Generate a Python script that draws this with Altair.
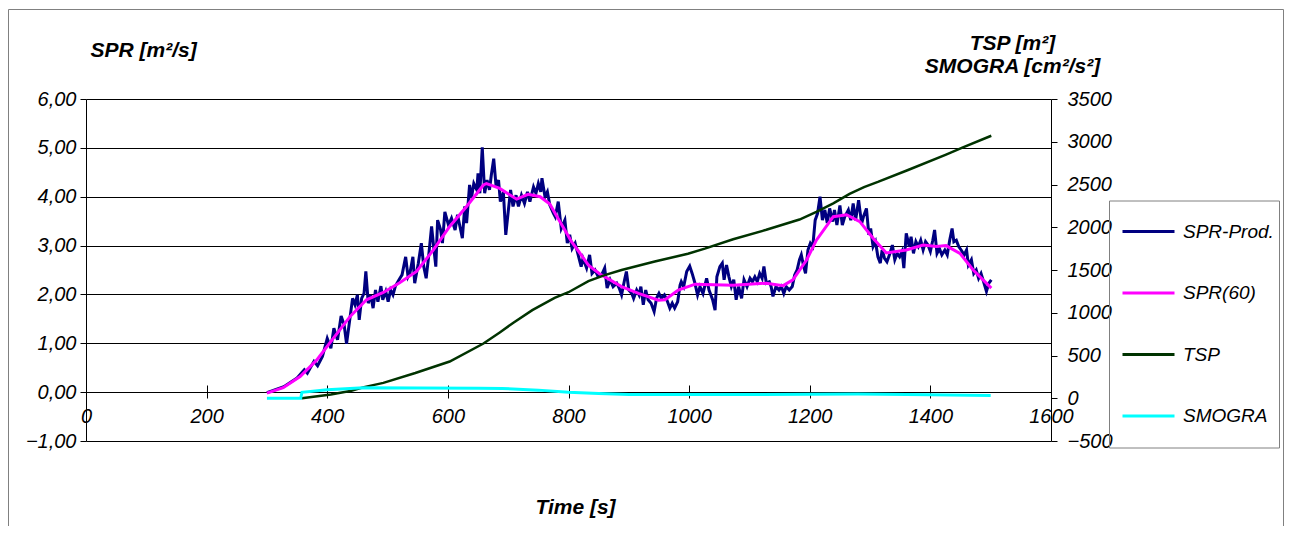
import altair as alt
import pandas as pd

SERIES = ["SPR-Prod.", "SPR(60)", "TSP", "SMOGRA"]
COLORS = ["#000080", "#FF00FF", "#003300", "#00FFFF"]

SPR_PROD_T = [300, 328, 350, 362, 367, 378, 384, 392, 400, 406, 411, 417, 423, 428, 432, 442, 446, 450, 453, 457,
              461, 464, 468, 472, 476, 480, 484, 489, 492, 497, 501, 505, 509, 513, 519, 524, 530, 534, 537, 542,
              545, 551, 556, 560, 564, 568, 573, 577, 580, 583, 588, 591, 595, 601, 606, 612, 616, 620, 624, 628,
              631, 636, 639, 643, 648, 650, 653, 657, 661, 665, 669, 672, 676, 680, 684, 687, 692, 696, 700, 704,
              708, 713, 717, 722, 727, 732, 736, 742, 746, 750, 754, 756, 761, 765, 769, 775, 778, 783, 788, 794,
              798, 802, 806, 811, 816, 821, 824, 830, 835, 839, 844, 849, 855, 860, 864, 869, 874, 880, 884, 888,
              893, 896, 900, 905, 908, 913, 917, 920, 924, 928, 932, 937, 942, 946, 950, 954, 959, 963, 968, 972,
              976, 981, 985, 987, 991, 996, 1001, 1005, 1009, 1014, 1018, 1023, 1029, 1033, 1039, 1043, 1046, 1051,
              1055, 1058, 1062, 1066, 1070, 1074, 1078, 1082, 1087, 1091, 1096, 1101, 1105, 1109, 1113, 1117, 1121,
              1124, 1128, 1133, 1136, 1139, 1144, 1149, 1153, 1157, 1161, 1166, 1171, 1175, 1179, 1183, 1186, 1190,
              1193, 1197, 1201, 1205, 1209, 1213, 1217, 1221, 1225, 1229, 1233, 1238, 1241, 1245, 1250, 1254, 1258,
              1264, 1268, 1272, 1276, 1281, 1286, 1289, 1294, 1298, 1301, 1305, 1309, 1313, 1317, 1320, 1324, 1328,
              1333, 1337, 1341, 1345, 1349, 1353, 1356, 1360, 1365, 1368, 1372, 1376, 1380, 1384, 1388, 1392, 1396,
              1400, 1404, 1407, 1411, 1415, 1419, 1424, 1428, 1432, 1436, 1439, 1443, 1447, 1451, 1456, 1460, 1463,
              1468, 1472, 1476, 1480, 1484, 1489, 1493, 1497, 1501]
SPR_PROD_V = [-0.01, 0.11, 0.29, 0.46, 0.39, 0.63, 0.54, 0.73, 1.10, 0.90, 1.31, 1.07, 1.56, 1.38, 0.99, 1.92, 1.79, 1.99, 1.48, 1.92,
              2.02, 2.47, 1.82, 1.99, 1.72, 2.09, 1.85, 2.17, 1.89, 2.06, 1.85, 2.09, 1.99, 2.17, 2.30, 2.40, 2.77, 2.36, 2.43, 2.77,
              2.23, 2.64, 3.05, 2.57, 2.33, 2.77, 3.39, 2.91, 2.57, 3.52, 3.32, 3.05, 3.69, 3.42, 3.56, 3.32, 3.63, 3.39, 3.15, 3.80,
              3.46, 4.24, 3.97, 4.27, 4.14, 4.48, 4.07, 5.01, 4.07, 4.34, 4.14, 4.44, 4.78, 4.20, 4.34, 3.90, 4.10, 3.22, 3.69, 4.14,
              3.80, 4.03, 3.80, 4.03, 3.86, 4.10, 3.90, 4.20, 4.07, 4.27, 4.10, 4.38, 4.00, 4.10, 3.83, 3.66, 3.59, 3.90, 3.35, 3.52,
              3.05, 3.22, 2.94, 3.05, 2.81, 2.57, 2.74, 2.54, 2.81, 2.43, 2.50, 2.37, 2.40, 2.54, 2.13, 2.30, 2.16, 2.23, 2.13, 1.99,
              2.30, 2.47, 2.09, 2.02, 1.92, 2.09, 1.99, 2.16, 1.79, 2.09, 1.89, 1.82, 1.65, 1.92, 2.02, 1.92, 1.99, 1.89, 1.72, 1.82,
              1.72, 1.85, 2.19, 2.26, 2.16, 2.47, 2.58, 2.43, 2.26, 1.99, 2.16, 2.02, 2.33, 2.09, 1.89, 1.68, 2.36, 2.57,
              2.64, 2.30, 2.60, 2.36, 2.16, 2.30, 1.89, 2.16, 1.92, 2.30, 2.16, 2.33, 2.26, 2.36, 2.26, 2.43, 2.33,
              2.57, 2.23, 2.26, 2.16, 1.96, 2.16, 2.09, 2.16, 2.02, 2.16, 2.09, 2.16, 2.40, 2.50, 2.71, 2.81, 2.57,
              2.43, 2.91, 3.05, 2.98, 3.52, 3.66, 4.00, 3.52, 3.73, 3.46, 3.76, 3.49, 3.73, 3.42, 3.82, 3.42, 3.59,
              3.73, 3.52, 3.86, 3.52, 3.93, 3.45, 3.59, 3.76, 3.22, 3.35, 2.98, 3.08, 2.77, 2.64, 2.91, 2.74, 2.67,
              2.84, 3.01, 2.71, 2.84, 2.77, 2.88, 2.54, 3.25, 2.98, 3.18, 2.84, 3.08, 2.98, 3.11, 2.91, 3.08, 3.01,
              2.88, 3.11, 3.32, 2.84, 2.94, 2.81, 2.91, 2.81, 3.11, 3.35, 3.08, 3.11, 2.98, 2.91, 2.81, 2.91, 2.60,
              2.71, 2.43, 2.50, 2.33, 2.43, 2.23, 2.06, 2.23, 2.30]

SPR60_T = [300, 327, 355, 382, 410, 438, 465, 493, 520, 548, 576, 603, 631, 659, 664, 686, 714, 733, 753, 769,
           783, 797, 805, 814, 833, 852, 860, 888, 916, 949, 960, 982, 1010, 1073, 1128, 1156, 1172, 1195, 1211,
           1239, 1261, 1283, 1305, 1327, 1360, 1388, 1410, 1426, 1449, 1471, 1501]
SPR60_V = [-0.02, 0.09, 0.32, 0.65, 1.10, 1.55, 1.89, 2.04, 2.24, 2.47, 2.91, 3.39, 3.80, 4.24, 4.27, 4.17, 3.95, 4.05, 4.00, 3.85,
           3.55, 3.25, 3.08, 2.93, 2.60, 2.42, 2.36, 2.16, 2.02, 1.88, 1.89, 2.09, 2.21, 2.19, 2.23, 2.18, 2.30, 2.71, 3.11,
           3.59, 3.63, 3.49, 3.15, 2.85, 2.91, 3.01, 2.98, 3.00, 2.84, 2.50, 2.13]

TSP_T = [358, 406, 440, 461, 493, 546, 603, 659, 686, 708, 740, 777, 800, 833, 860, 888, 943, 998, 1026, 1073,
         1128, 1183, 1211, 1239, 1266, 1290, 1313, 1363, 1426, 1454, 1501]
TSP_V = [0, 44, 88, 130, 180, 295, 430, 640, 770, 880, 1030, 1175, 1240, 1370, 1440, 1500, 1600, 1690, 1750, 1860,
         1970, 2090, 2180, 2280, 2390, 2470, 2530, 2670, 2850, 2935, 3070]

SMOGRA_T = [300, 356, 358, 400, 460, 550, 650, 690, 750, 800, 850, 900, 1000, 1100, 1200, 1280, 1400, 1500]
SMOGRA_V = [0, 0, 70, 100, 123, 120, 118, 114, 95, 70, 55, 45, 44, 44, 48, 50, 42, 33]

X_TICKS = [0, 200, 400, 600, 800, 1000, 1200, 1400, 1600]
LEFT_TICKS = [-1, 0, 1, 2, 3, 4, 5, 6]
RIGHT_TICKS = [-500, 0, 500, 1000, 1500, 2000, 2500, 3000, 3500]

FONT = "Liberation Sans"


def frame(name, t, v):
    return pd.DataFrame({"t": t, "v": v, "series": name, "order": list(range(len(t)))})


df = pd.concat([
    frame("SPR-Prod.", SPR_PROD_T, SPR_PROD_V),
    frame("SPR(60)", SPR60_T, SPR60_V),
    frame("TSP", TSP_T, TSP_V),
    frame("SMOGRA", SMOGRA_T, SMOGRA_V),
], ignore_index=True)

color = alt.Color(
    "series:N",
    scale=alt.Scale(domain=SERIES, range=COLORS),
    legend=alt.Legend(
        title=None, orient="none", legendX=1023, legendY=101.5,
        symbolType="stroke", symbolSize=2704, symbolStrokeWidth=3,
        labelFont=FONT, labelFontSize=19, labelFontStyle="italic", labelColor="black",
        labelOffset=7, rowPadding=9.5, padding=5, symbolOffset=7, clipHeight=52,
        strokeColor="#808080",
    ),
)

x = alt.X(
    "t:Q",
    scale=alt.Scale(domain=[0, 1600], nice=False, zero=False),
    axis=alt.Axis(
        values=X_TICKS, format="d", grid=False, domain=False, offset=-56,
        tickSize=13, tickColor="black", labelPadding=8, labelFlush=False, labelOverlap=False,
        labelFont=FONT, labelFontSize=20, labelFontStyle="italic", labelColor="black",
        title="Time [s]", titleX=489, titleY=122, titleAlign="center", titleBaseline="middle",
        titleFont=FONT, titleFontSize=21, titleFontWeight="bold", titleFontStyle="italic", titleColor="black",
    ),
)

y_left = alt.Y(
    "v:Q",
    scale=alt.Scale(domain=[-1, 6], nice=False, zero=False),
    axis=alt.Axis(
        values=LEFT_TICKS, labelExpr="replace(format(datum.value, '.2f'), '.', ',')",
        grid=True, gridColor="black", gridWidth=1, domainColor="black", tickColor="black",
        tickSize=6, labelPadding=4, labelFlush=False, labelOverlap=False,
        labelFont=FONT, labelFontSize=20, labelFontStyle="italic", labelColor="black",
        title="SPR [m²/s]", titleAngle=0, titleX=4, titleY=-49, titleAlign="left", titleBaseline="middle",
        titleFont=FONT, titleFontSize=21, titleFontWeight="bold", titleFontStyle="italic", titleColor="black",
    ),
)

y_right = alt.Y(
    "v:Q",
    scale=alt.Scale(domain=[-500, 3500], nice=False, zero=False),
    axis=alt.Axis(
        orient="right", values=RIGHT_TICKS, format="d", grid=False,
        domainColor="black", tickColor="black", tickSize=6, labelPadding=10,
        labelFlush=False, labelOverlap=False,
        labelFont=FONT, labelFontSize=20, labelFontStyle="italic", labelColor="black",
        title=["TSP [m²]", "SMOGRA [cm²/s²]"], titleAngle=0, titleX=-39, titleY=-67,
        titleAlign="center", titleBaseline="top", titleLineHeight=23.5,
        titleFont=FONT, titleFontSize=21, titleFontWeight="bold", titleFontStyle="italic", titleColor="black",
    ),
)

base = alt.Chart(df)


def line(name, width, yenc):
    return base.transform_filter(alt.datum.series == name).mark_line(strokeWidth=width).encode(
        x=x, y=yenc, color=color, order="order:Q"
    )


left = alt.layer(line("SPR-Prod.", 3, y_left), line("SPR(60)", 3, y_left))
right = alt.layer(line("TSP", 2.5, y_right), line("SMOGRA", 3, y_right))

border = alt.Chart(alt.Data(values=[{"a": 1}])).mark_rect(
    fill="transparent", stroke="#808080", strokeWidth=1
).encode(
    x=alt.value(-77.5), x2=alt.value(1197.5), y=alt.value(-89.5), y2=alt.value(600)
)

chart = alt.layer(border, left, right).resolve_scale(y="independent").properties(
    width=965, height=342,
    autosize=alt.AutoSizeParams(type="none"),
    padding={"left": 78, "top": 91, "right": 233, "bottom": 85},
    background="white",
).configure_view(stroke="transparent")

chart.save("out.html", embed_options={"renderer": "svg", "actions": False})
